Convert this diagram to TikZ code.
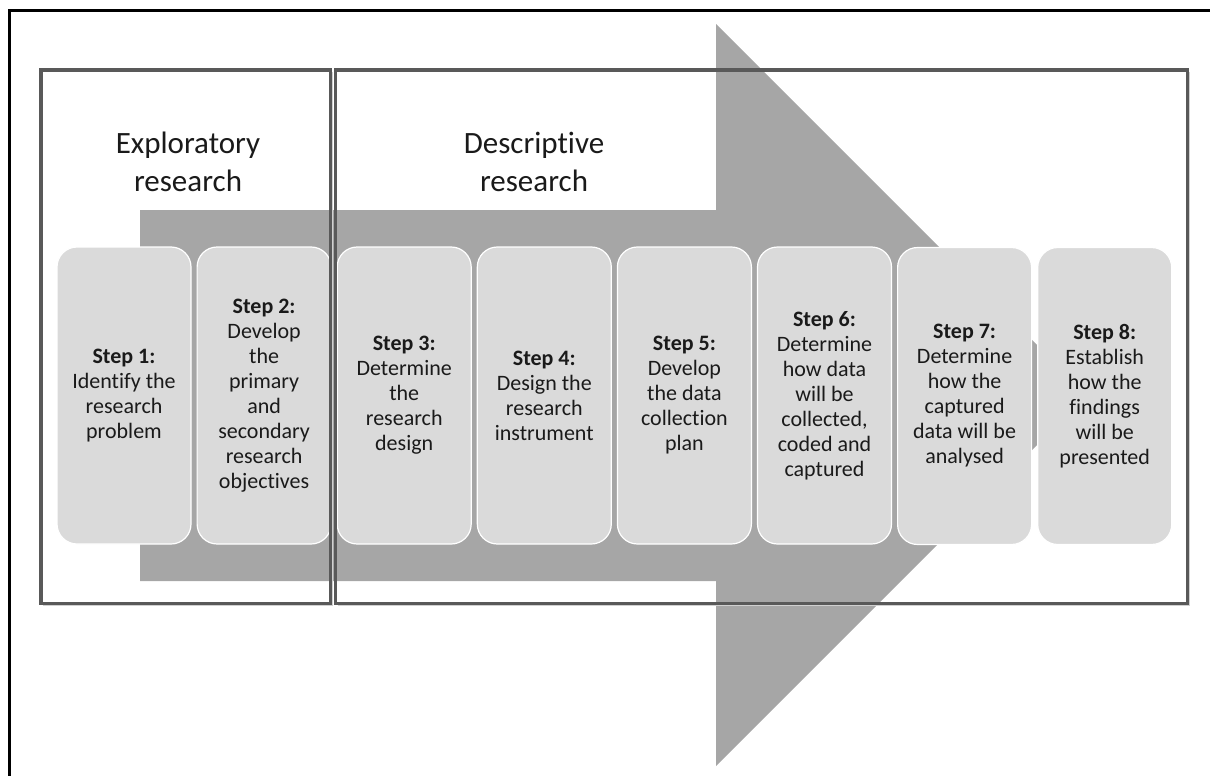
\documentclass[tikz,border=0pt]{standalone}
\usepackage{fontspec}
\setmainfont{Carlito}[Ligatures={NoCommon,NoRare}]
\definecolor{arrowgray}{HTML}{A6A6A6}
\definecolor{boxgray}{HTML}{DADADA}
\definecolor{framegray}{HTML}{595959}
\definecolor{shadegray}{HTML}{D0D0D0}
\definecolor{inkgray}{HTML}{1A1A1A}
\tikzset{
  stepbox/.style={rounded corners=20pt, fill=boxgray, draw=white, line width=1.2pt,
    minimum width=134pt, minimum height=297pt, align=center, text=inkgray,
    font=\fontsize{22}{25}\selectfont, inner sep=0pt},
  groupframe/.style={draw=framegray, line width=3.2pt},
  frameshade/.style={draw=shadegray, line width=1pt},
  grouplabel/.style={align=center, text=inkgray, font=\fontsize{31}{38}\selectfont, inner sep=0pt},
  outerframe/.style={draw=black, line width=2.6pt}
}
\begin{document}
\begin{tikzpicture}[x=1pt,y=-1pt]
\useasboundingbox (0,0) rectangle (1210,776);

% outer border, open at the right and bottom
\coordinate (ob) at (9.5,776);
\coordinate (oc) at (9.5,10.5);
\coordinate (or) at (1210,10.5);
\draw[outerframe] (ob) -- (oc) -- (or);

% large process arrow behind the steps
\fill[arrowgray] (140,210) -- (716,210) -- (716,24) -- (1087,395)
  -- (716,766) -- (716,581) -- (140,581) -- cycle;

% the eight steps
\node[stepbox] (s1) at (124,395.5) {\textbf{Step 1:}\\Identify the\\research\\problem};
\node[stepbox] (s2) at (264.1,395.5) {\textbf{Step 2:}\\Develop\\the\\primary\\and\\secondary\\research\\objectives};
\node[stepbox] (s3) at (404.2,395.5) {\textbf{Step 3:}\\Determine\\the\\research\\design};
\node[stepbox] (s4) at (544.3,395.5) {\textbf{Step 4:}\\Design the\\research\\instrument};
\node[stepbox] (s5) at (684.4,395.5) {\textbf{Step 5:}\\Develop\\the data\\collection\\plan};
\node[stepbox] (s6) at (824.5,395.5) {\textbf{Step 6:}\\Determine\\how data\\will be\\collected,\\coded and\\captured};
\node[stepbox] (s7) at (964.6,396) {\textbf{Step 7:}\\Determine\\how the\\captured\\data will be\\analysed};
\node[stepbox] (s8) at (1104.7,396) {\textbf{Step 8:}\\Establish\\how the\\findings\\will be\\presented};

% research phase frames with a faint edge shade
\draw[frameshade] (42.5,605.5) -- (332.5,605.5) -- (332.5,72.5);
\draw[frameshade] (337.5,605.5) -- (1189.5,605.5) -- (1189.5,72.5);
\draw[groupframe] (41,70) rectangle (330.5,603.5);
\draw[groupframe] (335.5,70) rectangle (1187.5,603.5);

% phase labels
\node[grouplabel] (explab) at (188,162) {Exploratory\\research};
\node[grouplabel] (deslab) at (534,162) {Descriptive\\research};
\end{tikzpicture}
\end{document}
